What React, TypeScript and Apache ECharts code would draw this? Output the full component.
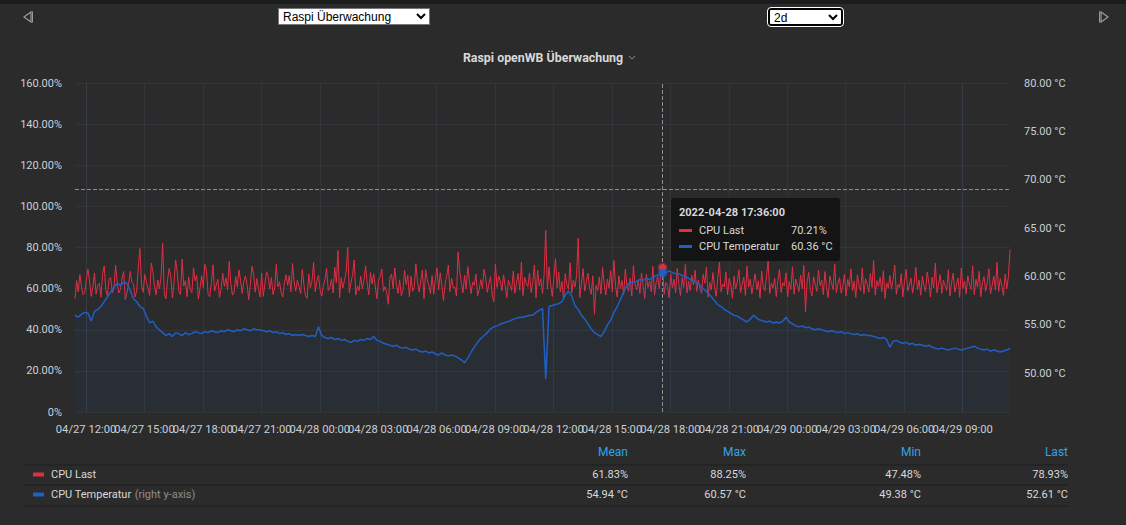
import React, { useEffect, useRef } from "react";
import * as echarts from "echarts";

// ---- data: 2022-04-27 11:26 → 2022-04-29 11:26 ----
const START_TIME = "2022-04-27T11:26:00";
const LOAD_STEP_MINUTES = 5; // CPU Last sampled every 5 minutes
const TEMP_STEP_MINUTES = 10; // CPU Temperatur sampled every 10 minutes

const CPU_LAST = [
  55.2, 63.9, 58.4, 66.8, 61.2, 57.0, 58.1, 64.7, 69.5, 63.4, 56.2, 60.8,
  67.6, 57.3, 61.9, 62.5, 55.8, 67.2, 71.0, 59.3, 56.4, 64.8, 65.3, 58.0,
  60.2, 71.3, 62.7, 57.9, 59.6, 65.1, 68.3, 54.7, 57.8, 62.1, 68.4, 63.0,
  62.3, 55.9, 58.8, 70.6, 79.5, 61.4, 58.2, 66.9, 63.1, 60.0, 56.7, 72.4,
  68.1, 60.8, 57.1, 64.2, 59.9, 65.6, 82.1, 57.5, 55.0, 64.2, 69.8, 66.0,
  55.4, 62.7, 74.0, 67.9, 58.6, 57.2, 74.3, 61.2, 63.9, 56.1, 65.7, 59.4,
  58.0, 70.2, 63.8, 66.4, 54.9, 60.2, 66.3, 60.5, 71.9, 68.7, 57.2, 56.0,
  62.9, 71.6, 58.8, 61.7, 64.5, 55.7, 59.8, 67.4, 61.1, 65.2, 59.3, 73.2,
  62.4, 56.8, 58.3, 65.9, 60.7, 69.1, 64.0, 57.6, 63.5, 66.2, 62.0, 54.6,
  61.8, 70.9, 67.3, 58.3, 64.9, 60.1, 55.9, 67.6, 56.2, 62.6, 68.2, 66.0,
  59.7, 65.4, 57.1, 60.3, 71.8, 60.9, 63.3, 58.1, 55.8, 62.9, 66.7, 61.6,
  66.4, 58.4, 72.2, 63.2, 58.9, 64.1, 61.0, 57.4, 69.3, 62.1, 56.5, 55.3,
  67.1, 60.4, 63.8, 72.7, 58.5, 63.7, 66.6, 59.4, 56.3, 61.5, 64.3, 69.9,
  59.1, 60.6, 64.6, 57.9, 70.4, 62.8, 78.5, 55.6, 65.3, 60.3, 63.9, 68.1,
  80.1, 58.0, 63.0, 66.7, 73.9, 56.9, 61.3, 59.0, 66.1, 59.8, 64.0, 71.1,
  62.4, 57.0, 67.9, 62.2, 67.3, 60.8, 55.1, 63.9, 65.8, 69.6, 58.7, 61.0,
  58.2, 52.4, 65.6, 67.0, 60.0, 70.0, 61.9, 57.7, 64.3, 56.6, 59.0, 68.9,
  62.0, 66.5, 56.0, 66.0, 58.7, 60.6, 72.1, 63.4, 58.4, 63.6, 69.1, 55.0,
  69.2, 64.2, 61.7, 57.5, 66.3, 57.3, 64.7, 70.1, 59.5, 67.7, 61.2, 54.2,
  62.5, 66.0, 71.4, 58.6, 65.0, 60.4, 60.8, 56.4, 77.7, 68.3, 62.9, 57.9,
  66.5, 59.9, 70.7, 63.8, 57.6, 63.2, 61.6, 67.0, 56.5, 59.4, 64.4, 60.1,
  69.4, 65.2, 58.2, 62.4, 65.8, 57.0, 53.6, 71.9, 60.6, 66.1, 63.8, 58.9,
  66.7, 61.4, 55.5, 64.0, 61.8, 59.0, 68.6, 57.8, 62.8, 67.4, 59.2, 73.0,
  56.6, 65.5, 62.7, 60.9, 67.5, 58.1, 63.1, 71.5, 55.6, 69.0, 61.3, 64.8,
  57.5, 66.8, 88.25, 59.7, 70.5, 62.1, 56.2, 65.2, 74.6, 60.4, 68.0, 58.4,
  63.5, 54.8, 67.3, 61.9, 59.6, 72.6, 57.9, 64.1, 60.7, 66.4, 84.4, 55.7,
  62.6, 69.7, 58.8, 63.4, 67.5, 60.3, 57.2, 66.2, 47.48, 61.5, 59.1, 65.7,
  57.4, 70.3, 62.7, 56.9, 64.6, 60.2, 68.8, 58.3, 73.7, 61.2, 55.9, 66.2,
  60.0, 63.9, 57.1, 69.5, 61.7, 58.7, 65.1, 56.4, 71.2, 62.3, 59.4, 64.3,
  57.6, 67.6, 61.0, 55.2, 66.9, 60.5, 63.7, 58.5, 70.8, 56.8, 62.9, 65.9,
  59.8, 68.4, 70.21, 57.3, 63.0, 61.4, 55.5, 67.1, 60.3, 64.5, 58.0, 69.8,
  62.0, 56.6, 65.3, 60.6, 71.7, 57.9, 63.6, 59.0, 66.5, 61.8, 68.9, 58.6,
  64.2, 60.1, 57.7, 66.9, 62.6, 70.4, 55.8, 63.1, 59.3, 67.8, 61.0, 56.2,
  65.4, 72.9, 58.5, 62.2, 60.8, 68.2, 57.0, 64.9, 61.6, 55.3, 66.0, 59.9,
  63.3, 69.1, 58.0, 61.9, 65.6, 56.7, 70.9, 60.7, 64.6, 57.4, 62.4, 67.2,
  59.5, 63.8, 55.4, 68.5, 61.1, 58.9, 66.3, 73.4, 57.6, 62.7, 60.2, 65.0,
  56.1, 64.0, 69.3, 58.2, 62.9, 61.3, 67.7, 55.9, 63.5, 59.6, 70.6, 57.3,
  64.7, 61.8, 58.6, 66.6, 60.0, 71.3, 48.6, 63.2, 67.9, 59.2, 56.5, 65.8,
  62.1, 58.7, 69.0, 61.5, 64.1, 57.1, 68.3, 60.4, 55.6, 66.1, 63.0, 59.5,
  72.0, 58.1, 62.5, 65.3, 57.8, 61.2, 67.0, 56.3, 64.4, 60.9, 69.6, 58.9,
  63.6, 55.7, 66.7, 61.4, 59.0, 70.1, 57.5, 64.8, 62.3, 58.3, 67.4, 60.6,
  73.7, 56.9, 63.9, 61.0, 65.5, 58.4, 68.7, 55.2, 62.8, 60.2, 66.4, 59.7,
  64.5, 71.5, 57.2, 62.0, 60.5, 67.2, 56.0, 63.4, 69.4, 58.8, 61.7, 65.1,
  57.8, 62.6, 70.3, 59.4, 64.2, 56.8, 66.0, 61.3, 58.6, 68.0, 63.1, 55.9,
  65.6, 60.3, 72.4, 58.0, 62.4, 66.8, 57.7, 64.0, 61.5, 59.1, 69.2, 56.4,
  63.0, 67.5, 58.3, 61.9, 65.2, 55.8, 70.0, 60.1, 63.7, 57.5, 66.3, 62.2,
  59.6, 71.1, 57.0, 64.6, 60.7, 68.4, 56.1, 62.8, 65.9, 58.7, 63.3, 69.7,
  57.4, 61.6, 66.2, 59.3, 72.8, 58.5, 64.9, 61.2, 56.7, 67.0, 60.0, 65.7,
  78.93,
];

const CPU_TEMP = [
  56.0, 55.8, 56.1, 56.3, 56.2, 55.4, 56.4, 56.6, 56.9, 57.4, 57.9, 58.4,
  58.9, 59.3, 59.1, 59.4, 59.3, 58.6, 57.7, 57.4, 56.9, 56.7, 55.9, 55.2,
  55.4, 54.8, 54.5, 54.2, 53.9, 54.1, 53.8, 54.2, 54.1, 53.9, 54.2, 54.0,
  54.1, 54.3, 54.2, 54.1, 54.3, 54.2, 54.4, 54.3, 54.2, 54.4, 54.3, 54.5,
  54.4, 54.3, 54.5, 54.4, 54.6, 54.5, 54.4, 54.6, 54.5, 54.5, 54.4, 54.3,
  54.4, 54.2, 54.3, 54.1, 54.2, 54.0, 54.1, 53.9, 54.0, 53.9, 54.0, 53.9,
  53.8, 53.9, 53.8, 54.8, 53.9, 53.7, 53.6, 53.7, 53.5, 53.6, 53.4, 53.5,
  53.3, 53.2, 53.4, 53.3, 53.5, 53.4, 53.6, 53.5, 53.8, 53.4, 53.3, 53.1,
  53.0, 52.9, 52.8, 52.9, 52.7, 52.6, 52.7, 52.5, 52.4, 52.5, 52.3, 52.2,
  52.3, 52.1, 52.2, 52.0, 51.9, 52.1, 51.9, 51.8, 51.9, 51.8, 51.6, 51.4,
  51.1, 51.6, 52.2, 52.7, 53.2, 53.6, 53.9, 54.2, 54.6, 54.8, 54.9, 55.1,
  55.2, 55.3, 55.4, 55.6, 55.7, 55.8, 55.8, 55.9, 56.0, 56.0, 56.3, 56.5,
  56.7, 49.38, 56.9, 57.0, 57.1, 57.2, 57.4, 58.1, 58.5, 58.0, 57.0, 56.6,
  56.0, 55.6, 55.1, 54.6, 54.2, 54.0, 53.8, 54.3, 55.0, 55.5, 56.3, 56.9,
  57.6, 58.4, 59.1, 59.4, 59.4, 59.5, 59.7, 59.6, 59.8, 59.7, 59.9, 60.1,
  60.2, 60.36, 60.4, 60.57, 60.4, 60.3, 60.3, 60.1, 60.0, 59.8, 59.6, 59.5,
  59.3, 58.9, 58.6, 58.3, 57.9, 57.5, 57.1, 56.9, 56.6, 56.4, 56.2, 56.0,
  55.9, 55.7, 55.5, 55.3, 55.6, 56.0, 55.7, 55.5, 55.4, 55.3, 55.4, 55.2,
  55.3, 55.2, 55.4, 55.8, 55.3, 55.1, 54.9, 54.8, 54.9, 54.7, 54.8, 54.6,
  54.5, 54.6, 54.5, 54.4, 54.3, 54.4, 54.3, 54.2, 54.3, 54.1, 54.2, 54.1,
  54.0, 54.1, 53.9, 54.0, 53.9, 53.9, 53.8, 53.7, 53.6, 53.7, 53.5, 52.7,
  53.3, 53.4, 53.2, 53.1, 53.2, 53.0, 53.1, 52.9, 53.0, 52.9, 52.8, 52.9,
  52.7, 52.6, 52.5, 52.6, 52.5, 52.4, 52.5, 52.6, 52.5, 52.4, 52.5, 52.6,
  52.7, 52.8, 52.6, 52.5, 52.4, 52.5, 52.3, 52.4, 52.3, 52.2, 52.3, 52.4,
  52.61,
];

const X_TICKS = [
  "2022-04-27T12:00:00", "2022-04-27T15:00:00", "2022-04-27T18:00:00", "2022-04-27T21:00:00",
  "2022-04-28T00:00:00", "2022-04-28T03:00:00", "2022-04-28T06:00:00", "2022-04-28T09:00:00",
  "2022-04-28T12:00:00", "2022-04-28T15:00:00", "2022-04-28T18:00:00", "2022-04-28T21:00:00",
  "2022-04-29T00:00:00", "2022-04-29T03:00:00", "2022-04-29T06:00:00", "2022-04-29T09:00:00",
];
const LEFT_TICKS = [0, 20, 40, 60, 80, 100, 120, 140, 160];
const RIGHT_TICKS = [50, 55, 60, 65, 70, 75, 80];
const RIGHT_MIN = 46;

const TOOLTIP_TIME = "2022-04-28T17:36:00";
const TOOLTIP_LABEL = "2022-04-28 17:36:00";
const CROSSHAIR_Y = 108.1;

const STAT_HEADERS = ["Mean", "Max", "Min", "Last"];
const CPU_LAST_STATS = ["61.83%", "88.25%", "47.48%", "78.93%"];
const CPU_TEMP_STATS = ["54.94 °C", "60.57 °C", "49.38 °C", "52.61 °C"];

const TITLE = "Raspi openWB Überwachung";
const SERIES_NAMES = ["CPU Last", "CPU Temperatur"];

// ---- styling ----
const BG = "#2b2b2b";
const RED = "#e02f44";
const BLUE = "#1f60c4";
const TEXT = "#d8d9da";
const AXIS_TEXT = "#c7d0d9";
const GRID_LINE = "rgba(80,100,130,0.18)";
const FONT = "Roboto, 'Noto Sans', sans-serif";

const startMs = new Date(START_TIME).getTime();
const LOAD_TIMES = CPU_LAST.map((_, i) => startMs + i * LOAD_STEP_MINUTES * 60000);
const TEMP_TIMES = CPU_TEMP.map((_, i) => startMs + i * TEMP_STEP_MINUTES * 60000);
const X_TICK_MS = X_TICKS.map((s) => new Date(s).getTime());
const tipMs = new Date(TOOLTIP_TIME).getTime();
const tipLoadIdx = LOAD_TIMES.indexOf(tipMs);
const tipTempIdx = TEMP_TIMES.indexOf(tipMs);

function Arrow({ left, flip }: { left: number; flip?: boolean }) {
  return (
    <svg
      width={12}
      height={14}
      style={{ position: "absolute", left, top: 10, transform: flip ? "scaleX(-1)" : undefined }}
    >
      <polygon points="2,7 9,2 9,12" fill="none" stroke="#9a9a9a" strokeWidth={1.2} />
      <line x1={10.5} y1={1.5} x2={10.5} y2={12.5} stroke="#9a9a9a" strokeWidth={1} />
    </svg>
  );
}

export default function App() {
  const ref = useRef<HTMLDivElement>(null);

  useEffect(() => {
    if (!ref.current) return;
    const chart = echarts.init(ref.current, null, { renderer: "svg" });

    const colRight = [628, 746, 921, 1068];
    const graphic: any[] = [];

    // title
    graphic.push({
      type: "text",
      style: { x: 543, y: 57, text: TITLE, textAlign: "center", textVerticalAlign: "middle", fill: TEXT, font: `bold 12.4px ${FONT}` },
    });
    graphic.push({
      type: "polyline",
      shape: { points: [[629, 56], [632, 59], [635, 56]] },
      style: { stroke: "#8e8e8e", lineWidth: 1, fill: "none" },
    });

    // legend table
    STAT_HEADERS.forEach((h, k) => {
      graphic.push({
        type: "text",
        style: { x: colRight[k], y: 452, text: h, textAlign: "right", textVerticalAlign: "middle", fill: "#33a2e5", font: `12px ${FONT}` },
      });
    });
    [465, 485, 506].forEach((y) => {
      graphic.push({
        type: "line",
        shape: { x1: 24, y1: y, x2: 1068, y2: y },
        style: { stroke: "#1f1f1f", lineWidth: 1 },
      });
    });
    const rows = [
      { y: 474, color: RED, stats: CPU_LAST_STATS, label: `{a|${SERIES_NAMES[0]}}` },
      { y: 494, color: BLUE, stats: CPU_TEMP_STATS, label: `{a|${SERIES_NAMES[1]}} {b|(right y-axis)}` },
    ];
    rows.forEach((r) => {
      graphic.push({ type: "rect", shape: { x: 33, y: r.y - 1.5, width: 11, height: 4 }, style: { fill: r.color } });
      graphic.push({
        type: "text",
        style: {
          x: 51,
          y: r.y,
          text: r.label,
          textVerticalAlign: "middle",
          rich: {
            a: { fill: TEXT, font: `11px ${FONT}` },
            b: { fill: "#8e8e8e", font: `11px ${FONT}` },
          },
        },
      });
      r.stats.forEach((s, k) => {
        graphic.push({
          type: "text",
          style: { x: colRight[k], y: r.y, text: s, textAlign: "right", textVerticalAlign: "middle", fill: TEXT, font: `11px ${FONT}` },
        });
      });
    });

    // tooltip box
    graphic.push({
      type: "rect",
      shape: { x: 671, y: 198, width: 169, height: 63, r: 3 },
      style: { fill: "#141414" },
      z: 100,
    });
    graphic.push({
      type: "text",
      z: 101,
      style: { x: 679, y: 212, text: TOOLTIP_LABEL, textVerticalAlign: "middle", fill: TEXT, font: `bold 11px ${FONT}` },
    });
    [
      { y: 229, color: RED, name: SERIES_NAMES[0], val: CPU_LAST[tipLoadIdx].toFixed(2) + "%" },
      { y: 245, color: BLUE, name: SERIES_NAMES[1], val: CPU_TEMP[tipTempIdx].toFixed(2) + " °C" },
    ].forEach((r) => {
      graphic.push({ type: "rect", z: 101, shape: { x: 679, y: r.y, width: 13, height: 3 }, style: { fill: r.color } });
      graphic.push({
        type: "text",
        z: 101,
        style: { x: 699, y: r.y + 1, text: r.name, textVerticalAlign: "middle", fill: TEXT, font: `11px ${FONT}` },
      });
      graphic.push({
        type: "text",
        z: 101,
        style: { x: 791, y: r.y + 1, text: r.val, textVerticalAlign: "middle", fill: TEXT, font: `11px ${FONT}` },
      });
    });

    chart.setOption({
      animation: false,
      backgroundColor: "transparent",
      textStyle: { fontFamily: FONT },
      grid: { left: 75, right: 116, top: 83, bottom: 113 },
      xAxis: {
        type: "time",
        min: startMs,
        max: LOAD_TIMES[LOAD_TIMES.length - 1],
        axisLine: { show: false },
        axisTick: { show: false, customValues: X_TICK_MS },
        splitLine: { show: true, lineStyle: { color: GRID_LINE } },
        axisLabel: {
          customValues: X_TICK_MS,
          color: AXIS_TEXT,
          fontSize: 11.2,
          margin: 12,
          hideOverlap: false,
          formatter: "{MM}/{dd} {HH}:{mm}",
        },
      },
      yAxis: [
        {
          type: "value",
          min: LEFT_TICKS[0],
          max: LEFT_TICKS[LEFT_TICKS.length - 1],
          interval: 20,
          axisLine: { show: false },
          axisTick: { show: false },
          splitLine: { lineStyle: { color: GRID_LINE } },
          axisLabel: {
            color: AXIS_TEXT,
            fontSize: 11,
            margin: 13,
            formatter: (v: number) => (v === 0 ? "0%" : v.toFixed(2) + "%"),
          },
        },
        {
          type: "value",
          position: "right",
          min: RIGHT_MIN,
          max: RIGHT_TICKS[RIGHT_TICKS.length - 1],
          axisLine: { show: false },
          axisTick: { show: false },
          splitLine: { show: false },
          axisLabel: {
            customValues: RIGHT_TICKS,
            color: AXIS_TEXT,
            fontSize: 11,
            margin: 14,
            formatter: (v: number) => v.toFixed(2) + " °C",
          },
        },
      ],
      series: [
        {
          name: SERIES_NAMES[0],
          type: "line",
          data: LOAD_TIMES.map((t, i) => [t, CPU_LAST[i]]),
          showSymbol: false,
          lineStyle: { color: RED, width: 1 },
          itemStyle: { color: RED },
          z: 2,
          markLine: {
            silent: true,
            symbol: ["none", "none"],
            label: { show: false },
            lineStyle: { type: "dashed", color: "#8e8e8e", width: 1 },
            data: [{ xAxis: tipMs }, { yAxis: CROSSHAIR_Y }],
          },
          markPoint: {
            silent: true,
            symbol: "circle",
            symbolSize: 7,
            label: { show: false },
            itemStyle: { color: RED, borderColor: "rgba(224,47,68,0.45)", borderWidth: 3 },
            data: [{ coord: [tipMs, CPU_LAST[tipLoadIdx]] }],
          },
        },
        {
          name: SERIES_NAMES[1],
          type: "line",
          yAxisIndex: 1,
          data: TEMP_TIMES.map((t, i) => [t, CPU_TEMP[i]]),
          showSymbol: false,
          lineStyle: { color: BLUE, width: 1.5 },
          itemStyle: { color: BLUE },
          areaStyle: { color: "rgba(31,96,196,0.1)", origin: "start" },
          z: 3,
          markPoint: {
            silent: true,
            symbol: "circle",
            symbolSize: 7,
            label: { show: false },
            itemStyle: { color: BLUE, borderColor: "rgba(31,96,196,0.45)", borderWidth: 3 },
            data: [{ coord: [tipMs, CPU_TEMP[tipTempIdx]] }],
          },
        },
      ],
      graphic,
    });

    return () => chart.dispose();
  }, []);

  const selectBase: React.CSSProperties = {
    position: "absolute",
    fontFamily: "Arial, 'Liberation Sans', sans-serif",
    fontSize: 12,
    padding: 0,
    background: "#fff",
    color: "#000",
  };

  return (
    <div
      style={{
        position: "fixed",
        left: 0,
        top: 0,
        width: 1126,
        height: 525,
        background: BG,
        overflow: "hidden",
      }}
    >
      <div style={{ position: "absolute", left: 0, top: 0, width: 1126, height: 4, background: "#1c1c1c" }} />
      <Arrow left={22} />
      <Arrow left={1098} flip />
      <select style={{ ...selectBase, left: 278, top: 8, width: 152, height: 17, border: "1px solid #767676" }} defaultValue="a">
        <option value="a">Raspi Überwachung</option>
      </select>
      <select
        style={{ ...selectBase, left: 768, top: 8, width: 75, height: 18, border: "2px solid #000", borderRadius: 3, outline: "1px solid #fff" }}
        defaultValue="2d"
      >
        <option value="2d">2d</option>
      </select>
      <div ref={ref} style={{ position: "absolute", left: 0, top: 0, width: 1126, height: 525 }} />
    </div>
  );
}
